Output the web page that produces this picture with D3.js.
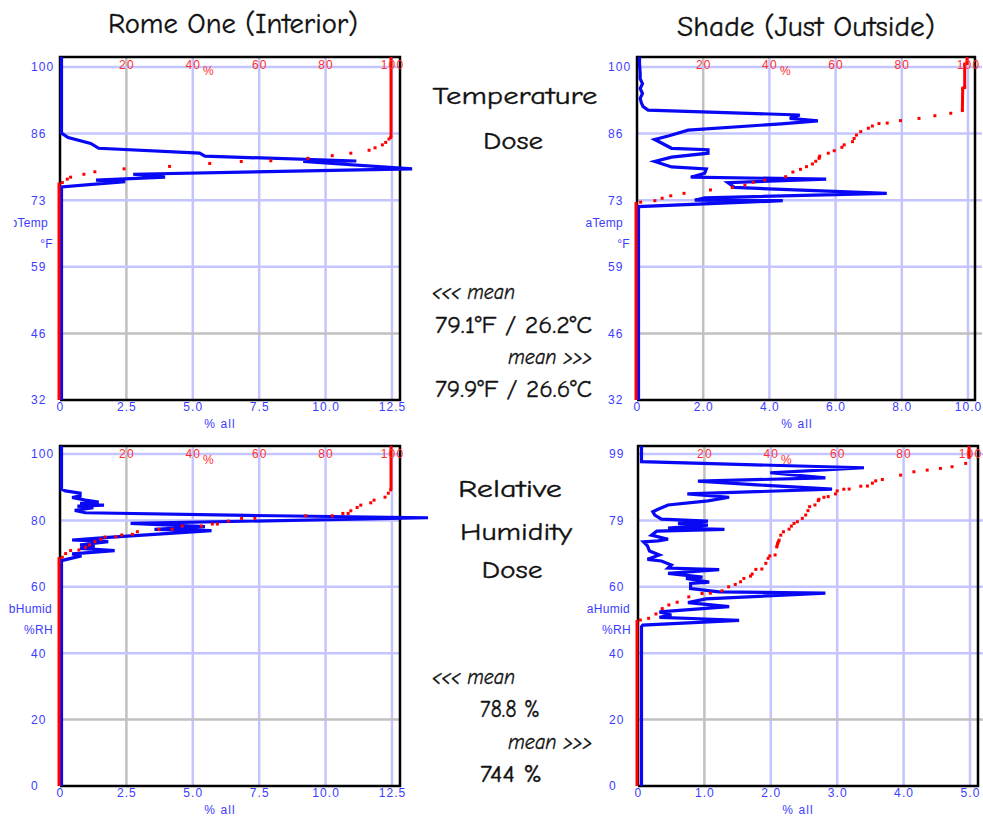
<!DOCTYPE html>
<html lang="en">
<head>
<meta charset="utf-8">
<title>Temperature and humidity dose</title>
<script src="https://d3js.org/d3.v7.min.js"></script>
<style>
  body { margin: 0; background: #fff; }
  svg { display: block; }
  .lbl { font-family: "Liberation Sans", Arial, sans-serif; font-size: 12px; fill: #3c3cff; letter-spacing: 1.1px; }
  .red { font-family: "Liberation Sans", Arial, sans-serif; font-size: 12px; fill: #ff3030; letter-spacing: 1.1px; }
  .hand { font-family: "Comic Sans MS", "Comic Neue", Lato, sans-serif; fill: #111; stroke: #111; stroke-width: 0.35px; }
</style>
</head>
<body>
<svg width="983" height="816"></svg>
<script>
// ---- axis ticks ----
const tempTicks = [32, 45.6, 59.2, 72.8, 86.4, 100];
const tempTickLabels = ["32", "46", "59", "73", "86", "100"];
const inHumTicks = [0, 20, 40, 60, 80, 100];
const inHumTickLabels = ["0", "20", "40", "60", "80", "100"];
const outHumTicks = [0, 19.8, 39.6, 59.4, 79.2, 99];
const outHumTickLabels = ["0", "20", "40", "60", "79", "99"];
const inPctTicks = [0, 2.5, 5, 7.5, 10, 12.5];
const outTempPctTicks = [0, 2, 4, 6, 8, 10];
const outHumPctTicks = [0, 1, 2, 3, 4, 5];
const cumTicks = [20, 40, 60, 80, 100];

// ---- Rome One (interior) temperature: [°F, % of readings] ----
const inTempDist = [
  [75.5, 0], [76.6, 2.4], [76.9, 1.3], [77.5, 3.9], [78.1, 2.7], [79.2, 13.2],
  [80.7, 9.1], [80.8, 11.1], [81.8, 5.4], [82.4, 5.2], [83.4, 1.4], [84.4, 1.1],
  [85.6, 0.25], [86.5, 0]
];
// cumulative % (red)
const inTempCum = [
  [76.4, 1.0], [77.1, 2.5], [77.5, 3.5], [78.1, 7.5], [78.6, 10.8], [79.2, 19.6],
  [79.7, 33.3], [80.3, 45.4], [80.7, 54.9], [80.85, 63.8], [81.35, 75.0], [81.9, 82.3],
  [82.4, 87.9], [83.0, 93.4], [83.5, 95.2], [84.1, 97.4], [84.6, 98.4], [85.3, 99.4],
  [85.6, 99.9]
];

// ---- Shade (just outside) temperature ----
const outTempDist = [
  [71.5, 0], [72.7, 4.36], [72.8, 1.7], [73.3, 2.0], [74.2, 7.5], [75.4, 2.9],
  [76.4, 2.7], [77.1, 5.67], [77.5, 1.58], [78.3, 2.0], [79.2, 2.05], [79.6, 1.0],
  [80.7, 0.49], [81.6, 1.0], [82.4, 2.1], [83.1, 2.1], [83.4, 1.0], [85.2, 0.49],
  [85.9, 0.9], [87.1, 1.5], [88.4, 4.31], [89.0, 5.42], [89.5, 4.57], [90.2, 4.87],
  [91.2, 0.29], [91.9, 0.14], [92.6, 0.09], [93.6, 0.05], [94.6, 0.12], [95.6, 0.05],
  [96.6, 0.12], [97.6, 0.05], [98.7, 0.05], [100.7, 0.03]
];
const outTempCum = [
  [72.4, 1.4], [72.7, 5.7], [73.2, 7.9], [73.7, 10.5], [74.2, 14.5], [74.9, 22.5],
  [75.4, 29.1], [75.9, 32.9], [76.45, 35.4], [76.9, 38.9], [77.6, 45.2], [78.55, 47.4],
  [79.1, 49.7], [79.65, 51.5], [80.2, 53.3], [80.75, 54.3], [81.35, 55.3], [81.8, 55.5],
  [82.4, 58.1], [82.9, 59.9], [83.6, 62.2], [84.1, 62.9], [84.75, 65.4], [85.4, 65.9],
  [86.1, 66.6], [86.8, 67.9], [87.5, 70.2], [87.95, 71.4], [88.45, 73.4], [88.55, 75.9],
  [89.05, 79.9], [89.5, 85.5], [90.05, 90.3], [90.55, 95.1], [91.1, 98.6], [95.7, 98.7],
  [95.8, 99.3], [100.6, 99.3], [100.7, 100]
];

// ---- Rome One (interior) relative humidity ----
const inHumDist = [
  [67.9, 0], [69.3, 0.75], [69.9, 0.4], [70.9, 2.0], [71.6, 0.7], [72.3, 1.25],
  [72.6, 0.7], [73.6, 1.76], [74.1, 0.4], [74.9, 1.76], [76.9, 5.65], [77.3, 3.5],
  [78.1, 5.4], [79.1, 2.6], [80.8, 13.8], [81.5, 7.0], [82.3, 0.9], [83.0, 0.5],
  [83.8, 1.2], [84.3, 0.6], [84.6, 1.6], [85.1, 0.7], [85.5, 1.4], [86.1, 0.9],
  [86.9, 0.4], [87.4, 0.7], [88.2, 0.7], [88.9, 0.15], [89.4, 0]
];
const inHumCum = [
  [68.9, 1.0], [70.0, 2.0], [70.9, 3.5], [71.1, 6.0], [71.9, 8.0], [72.6, 9.2],
  [73.6, 10.8], [74.3, 12.6], [75.0, 13.9], [75.05, 17.1], [75.6, 18.9], [75.8, 22.1],
  [76.6, 23.6], [77.3, 30.1], [77.35, 34.1], [78.3, 37.1], [78.3, 42.9], [78.9, 46.2],
  [78.9, 47.7], [79.8, 51.0], [80.6, 55.0], [80.6, 59.0], [81.4, 74.3], [81.4, 82.3],
  [82.1, 85.5], [82.1, 87.1], [82.9, 87.9], [83.9, 89.8], [84.6, 90.9], [85.3, 93.9],
  [86.1, 94.9], [87.0, 98.2], [88.2, 99.2], [89.2, 99.9]
];

// ---- Shade (just outside) relative humidity ----
const outHumDist = [
  [47.5, 0.03], [48.0, 0.05], [49.4, 1.5], [49.8, 1.0], [50.3, 0.3], [51.0, 0.48],
  [51.9, 0.3], [53.5, 1.35], [54.7, 0.73], [55.8, 1.0], [57.5, 2.8], [57.9, 1.2],
  [58.9, 0.77], [60.4, 0.77], [60.8, 1.05], [61.9, 0.7], [62.3, 0.95], [63.4, 0.43],
  [64.5, 1.2], [65.0, 0.43], [65.9, 0.48], [67.1, 0.33], [67.6, 0.12], [68.9, 0.3],
  [70.1, 0.15], [71.6, 0.12], [72.8, 0.06], [73.1, 0.28], [73.6, 0.43], [74.8, 0.18],
  [76.0, 0.26], [76.5, 1.28], [76.9, 0.43], [77.8, 1.03], [78.3, 0.58], [79.0, 1.03],
  [79.6, 0.33], [80.8, 0.23], [81.8, 0.2], [82.5, 0.28], [83.8, 0.43], [85.0, 1.03],
  [86.1, 1.35], [87.1, 0.72], [88.5, 2.9], [89.8, 1.77], [90.9, 0.88], [91.9, 2.8],
  [93.4, 1.97], [94.9, 3.38], [96.7, 0.03], [100, 0.03]
];
const outHumCum = [
  [49.5, 1.0], [50.0, 3.5], [51.3, 5.7], [52.9, 7.6], [54.0, 9.6], [54.8, 12.1],
  [56.4, 15.6], [57.4, 19.6], [57.5, 22.1], [58.2, 25.6], [59.4, 27.6], [60.1, 29.6],
  [60.9, 31.2], [61.9, 32.2], [62.6, 34.2], [63.2, 34.7], [64.6, 35.8], [64.7, 37.6],
  [66.4, 38.8], [67.9, 39.5], [68.6, 40.0], [68.9, 41.6], [71.3, 42.1], [72.4, 42.4],
  [73.3, 42.8], [74.8, 43.3], [75.8, 44.1], [76.6, 45.8], [77.5, 46.5], [78.3, 47.3],
  [78.8, 48.3], [79.8, 49.8], [80.8, 50.8], [82.1, 51.5], [83.3, 52.0], [83.8, 53.6],
  [85.1, 54.6], [85.5, 54.8], [86.1, 56.3], [86.3, 57.6], [87.1, 59.8], [88.0, 60.3],
  [88.5, 62.3], [88.55, 63.9], [89.4, 67.4], [89.45, 69.4], [90.3, 70.9], [91.0, 71.9],
  [91.4, 73.9], [92.7, 79.4], [93.7, 83.4], [94.2, 87.4], [94.7, 91.4], [95.2, 94.9],
  [96.2, 99.0], [98.0, 100]
];

const svg = d3.select("svg");
const lav = "#c4c4ff", gray = "#c0c0c0";
const fmtPct = d => d === 0 ? "0" : d3.format(".1f")(d);

// clip for the cut-off "bTemp" label at the left edge
svg.append("clipPath").attr("id", "leftcut")
   .append("rect").attr("x", 14).attr("y", 0).attr("width", 983).attr("height", 816);

const panels = [
  { dist: inTempDist, cum: inTempCum, xTicks: inPctTicks, yTicks: tempTicks, yLabels: tempTickLabels,
    name: "bTemp", unit: "°F", nameDx: 12, left: 60, xEnd: 392, frameRight: 400, bottom: 400, yTop: 67, frameTop: 57, clip: true },
  { dist: outTempDist, cum: outTempCum, xTicks: outTempPctTicks, yTicks: tempTicks, yLabels: tempTickLabels,
    name: "aTemp", unit: "°F", nameDx: 14, left: 637, xEnd: 968, frameRight: 975, bottom: 400, yTop: 67, frameTop: 57 },
  { dist: inHumDist, cum: inHumCum, xTicks: inPctTicks, yTicks: inHumTicks, yLabels: inHumTickLabels,
    name: "bHumid", unit: "%RH", nameDx: 8, left: 60, xEnd: 392, frameRight: 400, bottom: 786, yTop: 454, frameTop: 446 },
  { dist: outHumDist, cum: outHumCum, xTicks: outHumPctTicks, yTicks: outHumTicks, yLabels: outHumTickLabels,
    name: "aHumid", unit: "%RH", nameDx: 8, left: 638, xEnd: 970, frameRight: 978, bottom: 786, yTop: 454, frameTop: 446 }
];

panels.forEach(p => {
  const g = svg.append("g");
  const x = d3.scaleLinear().domain([0, d3.max(p.xTicks)]).range([p.left, p.xEnd]);
  const c = d3.scaleLinear().domain([0, 100]).range([p.left, p.xEnd]);
  const y = d3.scaleLinear().domain(d3.extent(p.yTicks)).range([p.bottom, p.yTop]);
  const yMin = y.domain()[0];
  const yEdge = y.invert(p.frameTop);

  // grid
  g.selectAll(".vg").data(p.xTicks.slice(1)).join("line")
    .attr("x1", d => x(d)).attr("x2", d => x(d))
    .attr("y1", p.frameTop).attr("y2", p.bottom)
    .attr("stroke", (d, i) => i === 0 ? gray : lav).attr("stroke-width", 2.5);
  g.selectAll(".hg").data(p.yTicks.slice(1)).join("line")
    .attr("x1", p.left).attr("x2", p.frameRight + (p.left > 300 ? 7 : 0))
    .attr("y1", d => y(d)).attr("y2", d => y(d))
    .attr("stroke", (d, i) => i === 0 ? gray : lav).attr("stroke-width", 2.5);

  // frame
  g.append("path")
    .attr("d", `M${p.left},${p.bottom}V${p.frameTop}H${p.frameRight}V${p.bottom}H${p.left}`)
    .attr("fill", "none").attr("stroke", "#000").attr("stroke-width", 2.5);

  // blue distribution
  const blue = [[yMin, p.dist[0][1]], ...p.dist, [yEdge, p.dist[p.dist.length - 1][1]]];
  g.append("path").datum(blue)
    .attr("transform", "translate(1.5,0)")
    .attr("d", d3.line().x(d => x(d[1])).y(d => y(d[0])))
    .attr("fill", "none").attr("stroke", "#0808f4").attr("stroke-width", 3.2);

  // red cumulative: dots, short joins where the curve runs nearly vertical,
  // and the 0 % / 100 % runs below and above the data
  const rg = g.append("g").attr("transform", "translate(-1,0)");
  const first = p.cum[0], last = p.cum[p.cum.length - 1];
  const runs = [
    [[yMin, 0], [first[0], 0]],
    [[last[0], 100], [yEdge, 100]],
    ...d3.pairs(p.cum).filter(([a, b]) => Math.abs(b[1] - a[1]) <= 0.45)
  ];
  rg.selectAll("line").data(runs).join("line")
    .attr("x1", d => c(d[0][1])).attr("x2", d => c(d[1][1]))
    .attr("y1", d => y(d[0][0])).attr("y2", d => y(d[1][0]))
    .attr("stroke", "#ff0000").attr("stroke-width", 3);
  rg.selectAll("rect").data(p.cum).join("rect")
    .attr("x", d => c(d[1]) - 1.5).attr("y", d => y(d[0]) - 1.5)
    .attr("width", 3).attr("height", 3).attr("fill", "#ff0000");

  // bottom axis (% all)
  g.append("g").attr("transform", `translate(0,${p.bottom})`)
    .call(d3.axisBottom(x).tickValues(p.xTicks).tickFormat(fmtPct).tickSize(0))
    .call(a => a.select(".domain").remove())
    .selectAll("text").attr("class", "lbl").attr("y", 11).attr("dy", 0);
  g.append("text").attr("class", "lbl").attr("x", p.left + 160).attr("y", p.bottom + 28)
    .attr("text-anchor", "middle").text("% all");

  // top axis (cumulative %)
  g.append("g").attr("transform", `translate(0,${p.frameTop})`)
    .call(d3.axisTop(c).tickValues(cumTicks).tickSize(0))
    .call(a => a.select(".domain").remove())
    .selectAll("text").attr("class", "red").attr("y", 11.5).attr("dy", 0);
  g.append("text").attr("class", "red").attr("x", p.left + 149).attr("y", p.frameTop + 18)
    .attr("text-anchor", "middle").text("%");

  // left axis
  g.append("g").attr("transform", `translate(${p.left},0)`)
    .call(d3.axisLeft(y).tickValues(p.yTicks).tickFormat((d, i) => p.yLabels[i]).tickSize(0))
    .call(a => a.select(".domain").remove())
    .selectAll("text").attr("class", "lbl").attr("x", -29).attr("text-anchor", "start");

  const nm = g.append("text").attr("class", "lbl").attr("x", p.left - p.nameDx).attr("y", p.bottom - 173.5)
    .attr("text-anchor", "end").style("letter-spacing", "0.3px").text(p.name);
  if (p.clip) nm.attr("clip-path", "url(#leftcut)");
  g.append("text").attr("class", "lbl").attr("x", p.left - 7).attr("y", p.bottom - 152)
    .attr("text-anchor", "end").style("letter-spacing", "0.3px").text(p.unit);
});

// hand-lettered titles and notes
const notes = [
  { t: "Rome One (Interior)", x: 233, y: 33, s: 28, a: "middle", w: 250 },
  { t: "Shade (Just Outside)", x: 806, y: 36, s: 28, a: "middle", w: 258 },
  { t: "Temperature", x: 515, y: 104, s: 25, a: "middle", w: 165 },
  { t: "Dose", x: 513, y: 149, s: 25, a: "middle", w: 60 },
  { t: "<<< mean", x: 432, y: 299, s: 21, a: "start", w: 83, i: true },
  { t: "79.1°F / 26.2°C", x: 435, y: 333, s: 25, a: "start", w: 157 },
  { t: "mean >>>", x: 592, y: 364, s: 21, a: "end", w: 84, i: true },
  { t: "79.9°F / 26.6°C", x: 435, y: 397, s: 25, a: "start", w: 157 },
  { t: "Relative", x: 510, y: 497, s: 25, a: "middle", w: 104 },
  { t: "Humidity", x: 516, y: 540, s: 25, a: "middle", w: 112 },
  { t: "Dose", x: 512, y: 578, s: 25, a: "middle", w: 61 },
  { t: "<<< mean", x: 432, y: 684, s: 21, a: "start", w: 83, i: true },
  { t: "78.8 %", x: 480, y: 717, s: 25, a: "start", w: 60 },
  { t: "mean >>>", x: 592, y: 749, s: 21, a: "end", w: 84, i: true },
  { t: "744 %", x: 480, y: 782, s: 25, a: "start", w: 62 }
];
svg.selectAll(".hand").data(notes).join("text")
  .attr("class", "hand")
  .attr("x", d => d.x).attr("y", d => d.y)
  .attr("text-anchor", d => d.a)
  .attr("font-size", d => d.s)
  .attr("font-style", d => d.i ? "italic" : "normal")
  .attr("textLength", d => d.w).attr("lengthAdjust", "spacingAndGlyphs")
  .text(d => d.t);
</script>
</body>
</html>
